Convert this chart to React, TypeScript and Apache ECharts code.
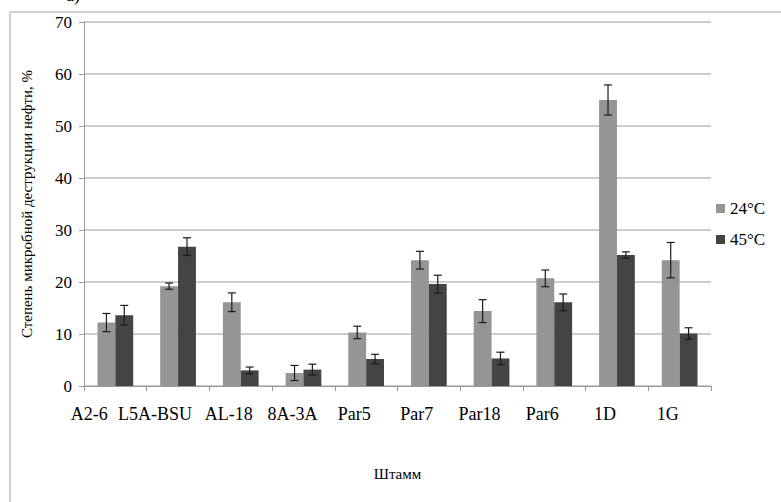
import React, { useEffect, useRef } from "react";
import * as echarts from "echarts";

const categories = ["A2-6", "L5A-BSU", "AL-18", "8A-3A", "Par5", "Par7", "Par18", "Par6", "1D", "1G"];
const seriesNames = ["24°C", "45°C"];
const values24 = [12.2, 19.2, 16.1, 2.5, 10.3, 24.2, 14.4, 20.7, 55.0, 24.2];
const errors24 = [1.75, 0.6, 1.8, 1.45, 1.2, 1.7, 2.2, 1.6, 2.9, 3.4];
const values45 = [13.6, 26.8, 3.0, 3.15, 5.2, 19.6, 5.3, 16.1, 25.2, 10.1];
const errors45 = [1.9, 1.7, 0.65, 1.05, 0.9, 1.7, 1.2, 1.6, 0.6, 1.1];
const yTicks = { min: 0, max: 70, interval: 10 };
const xAxisTitle = "Штамм";
const yAxisTitle = "Степень микробной деструкции нефти, %";

// layout: leftward shift (px) of each category label, as in the reference
const labelShift = [26, 23, 12, 11, 12, 12, 12, 12, 12, 12];

const FONT = "Liberation Serif";
const CAT_GAP = 0.43;

function errorSeries(values: number[], errors: number[], side: number) {
  return {
    type: "custom",
    silent: true,
    z: 10,
    data: values.map((v, i) => [i, v - errors[i], v + errors[i]]),
    renderItem: (params: any, api: any) => {
      const idx = api.value(0);
      const lo = api.coord([idx, api.value(1)]);
      const hi = api.coord([idx, api.value(2)]);
      const band = api.size([1, 0])[0];
      const bw = (band * (1 - CAT_GAP)) / 2;
      const x = lo[0] + side * bw / 2;
      const cap = 4;
      const style = { stroke: "#1a1a1a", lineWidth: 1.2 };
      return {
        type: "group",
        children: [
          { type: "line", shape: { x1: x, y1: lo[1], x2: x, y2: hi[1] }, style },
          { type: "line", shape: { x1: x - cap, y1: lo[1], x2: x + cap, y2: lo[1] }, style },
          { type: "line", shape: { x1: x - cap, y1: hi[1], x2: x + cap, y2: hi[1] }, style },
        ],
      };
    },
  };
}

export default function App() {
  const ref = useRef<HTMLDivElement>(null);
  useEffect(() => {
    if (!ref.current) return;
    const chart = echarts.init(ref.current, null, { renderer: "svg" });
    const catData = categories.map((c, i) => ({
      value: c,
      textStyle: { padding: [0, labelShift[i] * 2, 0, 0] },
    }));
    chart.setOption({
      animation: false,
      backgroundColor: "#ffffff",
      textStyle: { fontFamily: FONT, color: "#000" },
      grid: { left: 84, right: 70, top: 22, bottom: 116, containLabel: false },
      legend: {
        orient: "vertical",
        left: 711,
        top: 195,
        itemWidth: 9,
        itemHeight: 9,
        itemGap: 14,
        icon: "rect",
        textStyle: { fontFamily: FONT, fontSize: 17, color: "#000" },
        data: seriesNames,
      },
      graphic: [
        {
          type: "rect",
          shape: { x: 10, y: 12, width: 800, height: 600 },
          style: { fill: "none", stroke: "#d0d0d0", lineWidth: 2 },
          silent: true,
          z: -1,
        },
        {
          type: "text",
          x: 80,
          y: -14,
          style: { text: "а)", fontFamily: FONT, fontSize: 18, fill: "#000", align: "right" },
        },
      ],
      xAxis: {
        type: "category",
        data: catData,
        name: xAxisTitle,
        nameLocation: "middle",
        nameGap: 80,
        nameTextStyle: { fontFamily: FONT, fontSize: 15, color: "#000" },
        axisLine: { lineStyle: { color: "#9a9a9a", width: 1 } },
        axisTick: { show: true, length: 5, lineStyle: { color: "#9a9a9a" } },
        axisLabel: { interval: 0, fontFamily: FONT, fontSize: 18, color: "#000", margin: 19, hideOverlap: false },
      },
      yAxis: {
        type: "value",
        min: yTicks.min,
        max: yTicks.max,
        interval: yTicks.interval,
        name: yAxisTitle,
        nameLocation: "middle",
        nameGap: 50,
        nameTextStyle: { fontFamily: FONT, fontSize: 15, color: "#000" },
        axisLine: { show: true, lineStyle: { color: "#9a9a9a", width: 1 } },
        axisTick: { show: true, length: 5, lineStyle: { color: "#9a9a9a" } },
        axisLabel: { fontFamily: FONT, fontSize: 17, color: "#000", margin: 12 },
        splitLine: { lineStyle: { color: "#bdbdbd", width: 1.5 } },
      },
      series: [
        {
          name: seriesNames[0],
          type: "bar",
          data: values24,
          barGap: "0%",
          barCategoryGap: `${CAT_GAP * 100}%`,
          itemStyle: { color: "#959595" },
        },
        {
          name: seriesNames[1],
          type: "bar",
          data: values45,
          barGap: "0%",
          barCategoryGap: `${CAT_GAP * 100}%`,
          itemStyle: { color: "#444444" },
        },
        errorSeries(values24, errors24, -1),
        errorSeries(values45, errors45, 1),
      ],
    });
    return () => chart.dispose();
  }, []);
  return (
    <div
      ref={ref}
      style={{ position: "fixed", left: 0, top: 0, width: 781, height: 502 }}
    />
  );
}
